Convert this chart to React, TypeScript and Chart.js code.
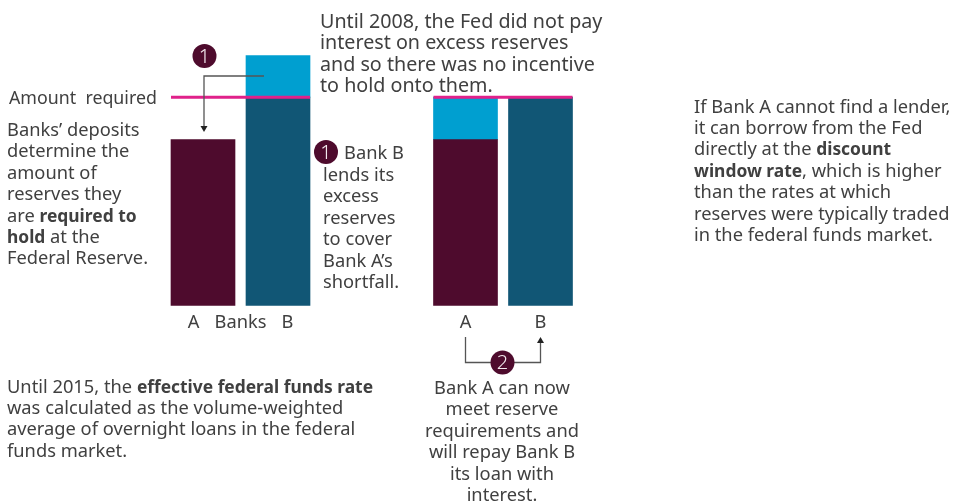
import React, { useEffect, useRef } from "react";
import { Chart, registerables } from "chart.js";

Chart.register(...registerables);

// Ten evenly spaced slots; the bars sit on slots 0, 2, 7 and 9.
const categories = ["A    ", "Banks", "    B", "", "", "", "", "A", "", "B"];
const heldReserves = [39.8, null, null, null, null, null, null, 39.8, null, null];
const requiredReserves = [null, null, 50, null, null, null, null, null, null, 50];
const excessReserves = [null, null, 10, null, null, null, null, 10.2, null, null];
const amountRequired = 50;
const axisMax = 60;

const FONT = "'Noto Sans'";
const INK = "#404040";
const MAROON = "#4e0b2d";

const B = ({ children }: { children: React.ReactNode }) => (
  <b style={{ fontSize: 17.4, lineHeight: 0 }}>{children}</b>
);

const topNote = [
  "Until 2008, the Fed did not pay",
  "interest on excess reserves",
  "and so there was no incentive",
  "to hold onto them.",
];
const sideNote = ["lends its", "excess", "reserves", "to cover", "Bank A’s", "shortfall."];
const rightNote: React.ReactNode[] = [
  "If Bank A cannot find a lender,",
  "it can borrow from the Fed",
  <>directly at the <B>discount</B></>,
  <><B>window rate</B>, which is higher</>,
  "than the rates at which",
  "reserves were typically traded",
  "in the federal funds market.",
];
const leftNote: React.ReactNode[] = [
  "Banks’ deposits",
  "determine the",
  "amount of",
  "reserves they",
  <>are <B>required to</B></>,
  <><B>hold</B> at the</>,
  "Federal Reserve.",
];
const bottomNote: React.ReactNode[] = [
  <>Until 2015, the <B>effective federal funds rate</B></>,
  "was calculated as the volume-weighted",
  "average of overnight loans in the federal",
  "funds market.",
];
const centreNote = [
  "Bank A can now",
  "meet reserve",
  "requirements and",
  "will repay Bank B",
  "its loan with",
  "interest.",
];

function badge(ctx: CanvasRenderingContext2D, x: number, y: number, label: string) {
  ctx.fillStyle = MAROON;
  ctx.beginPath();
  ctx.arc(x, y, 12, 0, Math.PI * 2);
  ctx.fill();
  ctx.fillStyle = "#f3e9ee";
  ctx.font = `300 20px ${FONT}`;
  ctx.textAlign = "center";
  ctx.textBaseline = "middle";
  ctx.fillText(label, x, y + 1);
}

function arrowHead(ctx: CanvasRenderingContext2D, x: number, y: number, dir: number) {
  ctx.fillStyle = "#222";
  ctx.beginPath();
  ctx.moveTo(x, y);
  ctx.lineTo(x - 3.5, y - dir * 6);
  ctx.lineTo(x + 3.5, y - dir * 6);
  ctx.closePath();
  ctx.fill();
}

const annotations = {
  id: "annotations",
  afterDatasetsDraw(chart: any) {
    const { ctx, scales } = chart;
    const x = scales.x;
    const y = scales.y;
    const half = 32;
    const [a1, b1, a2, b2] = [0, 2, 7, 9].map((i) => x.getPixelForValue(i));
    const req = y.getPixelForValue(amountRequired);
    ctx.save();
    ctx.strokeStyle = "#e0218a";
    ctx.lineWidth = 3;
    ctx.beginPath();
    ctx.moveTo(a1 - half, req);
    ctx.lineTo(b1 + half, req);
    ctx.moveTo(a2 - half, req);
    ctx.lineTo(b2 + half, req);
    ctx.stroke();

    ctx.strokeStyle = "#555";
    ctx.lineWidth = 1.3;
    ctx.beginPath();
    ctx.moveTo(264, 76);
    ctx.lineTo(a1 + 1, 76);
    ctx.lineTo(a1 + 1, 127);
    ctx.moveTo(a2, 337);
    ctx.lineTo(a2, 362.5);
    ctx.lineTo(b2, 362.5);
    ctx.lineTo(b2, 343);
    ctx.stroke();
    arrowHead(ctx, a1 + 1, 132, 1);
    arrowHead(ctx, b2, 337, -1);
    badge(ctx, 204.5, 56, "1");
    badge(ctx, 326, 152, "1");
    badge(ctx, 502.5, 362.5, "2");
    ctx.restore();
  },
};

function Note({ lines, left, top, center, width, size = 18.3 }: { lines: React.ReactNode[]; left: number; top: number; center?: boolean; width?: number; size?: number }) {
  return (
    <div
      style={{
        position: "absolute",
        left,
        top,
        width,
        textAlign: center ? "center" : "left",
        font: `${size}px/21.4px ${FONT}`,
        color: INK,
        whiteSpace: "pre",
      }}
    >
      {lines.map((l, i) => (
        <div key={i}>{l}</div>
      ))}
    </div>
  );
}

export default function App() {
  const ref = useRef<HTMLCanvasElement>(null);
  useEffect(() => {
    const chart = new Chart(ref.current as HTMLCanvasElement, {
      type: "bar",
      data: {
        labels: categories,
        datasets: [
          { label: "Held reserves", data: heldReserves, backgroundColor: MAROON, clip: false },
          { label: "Required reserves", data: requiredReserves, backgroundColor: "#115675", clip: false },
          { label: "Excess reserves", data: excessReserves, backgroundColor: "#009fd0", clip: false },
        ] as any,
      },
      options: {
        animation: false,
        responsive: false,
        datasets: { bar: { barThickness: 64 } },
        layout: { padding: { left: 184.25, right: 394.75, top: 55.5, bottom: 169.5 } },
        plugins: { legend: { display: false }, tooltip: { enabled: false } },
        scales: {
          x: {
            stacked: true,
            grid: { display: false },
            border: { display: false },
            ticks: {
              autoSkip: false,
              maxRotation: 0,
              padding: -1.5,
              color: INK,
              font: { family: FONT, size: 18.3 },
            },
          },
          y: { stacked: true, display: false, min: 0, max: axisMax },
        },
      },
      plugins: [annotations],
    } as any);
    return () => chart.destroy();
  }, []);

  return (
    <div style={{ position: "absolute", left: 0, top: 0, width: 954, height: 502, overflow: "hidden", background: "#fff" }}>
      <canvas ref={ref} width={954} height={502} style={{ display: "block", position: "absolute", left: 0, top: 0 }} />
      <Note lines={topNote} left={320} top={10} size={19.7} />
      <Note lines={["Amount  required"]} left={9} top={87} size={17.8} />
      <Note lines={leftNote} left={7} top={118} />
      <Note lines={["Bank B"]} left={344} top={141} />
      <Note lines={sideNote} left={323} top={163} />
      <Note lines={rightNote} left={694} top={94.5} />
      <Note lines={bottomNote} left={7} top={374.5} />
      <Note lines={centreNote} left={402} top={376} center width={200} />
    </div>
  );
}
